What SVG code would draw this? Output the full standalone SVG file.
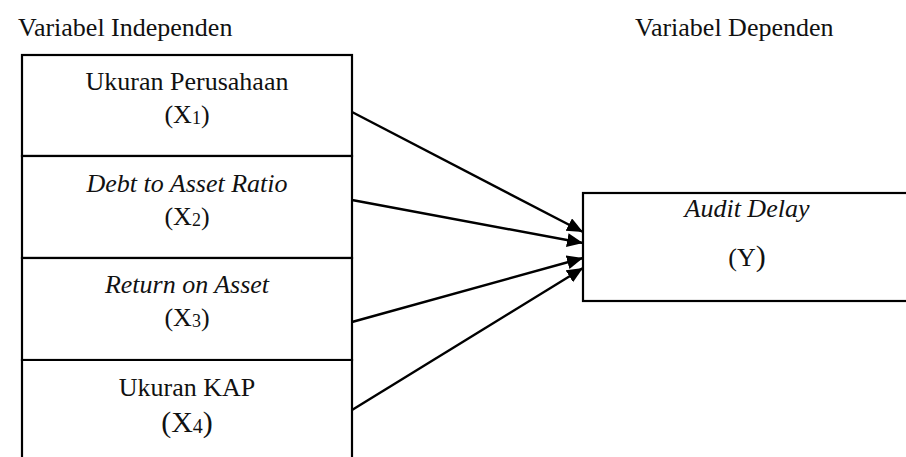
<svg xmlns="http://www.w3.org/2000/svg" width="906" height="457" viewBox="0 0 906 457">
<style>
text{font-family:"Liberation Serif","Times New Roman",serif;font-size:26px;fill:#111;text-anchor:middle}
.i{font-style:italic}
.s{font-size:18px}
.big{font-size:30px}
.s4{font-size:20px}
.box{fill:#fff;stroke:#000;stroke-width:2.2}
.conn{stroke:#000;stroke-width:2.4;fill:none}
</style>
<defs>
<marker id="ah" markerUnits="userSpaceOnUse" markerWidth="18" markerHeight="16" refX="16" refY="7" orient="auto">
<path d="M0,0 L16,7 L0,14 Z" fill="#000"/>
</marker>
</defs>
<text x="18" y="36" style="text-anchor:start">Variabel Independen</text>
<text x="635" y="36" style="text-anchor:start">Variabel Dependen</text>
<g id="x1">
<rect class="box" x="22" y="55" width="330" height="101"/>
<text x="187" y="90">Ukuran Perusahaan</text>
<text x="187" y="123">(X<tspan class="s" dy="1">1</tspan><tspan dy="-1">)</tspan></text>
</g>
<g id="x2">
<rect class="box" x="22" y="156" width="330" height="102"/>
<text class="i" x="187" y="192">Debt to Asset Ratio</text>
<text x="187" y="225">(X<tspan class="s" dy="1">2</tspan><tspan dy="-1">)</tspan></text>
</g>
<g id="x3">
<rect class="box" x="22" y="258" width="330" height="102"/>
<text class="i" x="187" y="293">Return on Asset</text>
<text x="187" y="326">(X<tspan class="s" dy="1">3</tspan><tspan dy="-1">)</tspan></text>
</g>
<g id="x4">
<path class="box" d="M22,460 V360 H352 V460"/>
<text x="187" y="396">Ukuran KAP</text>
<text class="big" x="187" y="432">(X<tspan class="s4" dy="1">4</tspan><tspan dy="-1">)</tspan></text>
</g>
<g id="y">
<rect class="box" x="583" y="193" width="340" height="108"/>
<text class="i" x="747" y="217">Audit Delay</text>
<text x="747" y="266">(Y<tspan class="big">)</tspan></text>
</g>
<g id="connectors">
<line class="conn" x1="352" y1="112" x2="583" y2="232" marker-end="url(#ah)"/>
<line class="conn" x1="352" y1="200" x2="583" y2="243" marker-end="url(#ah)"/>
<line class="conn" x1="352" y1="322" x2="583" y2="258" marker-end="url(#ah)"/>
<line class="conn" x1="352" y1="410" x2="583" y2="268" marker-end="url(#ah)"/>
</g>
</svg>
